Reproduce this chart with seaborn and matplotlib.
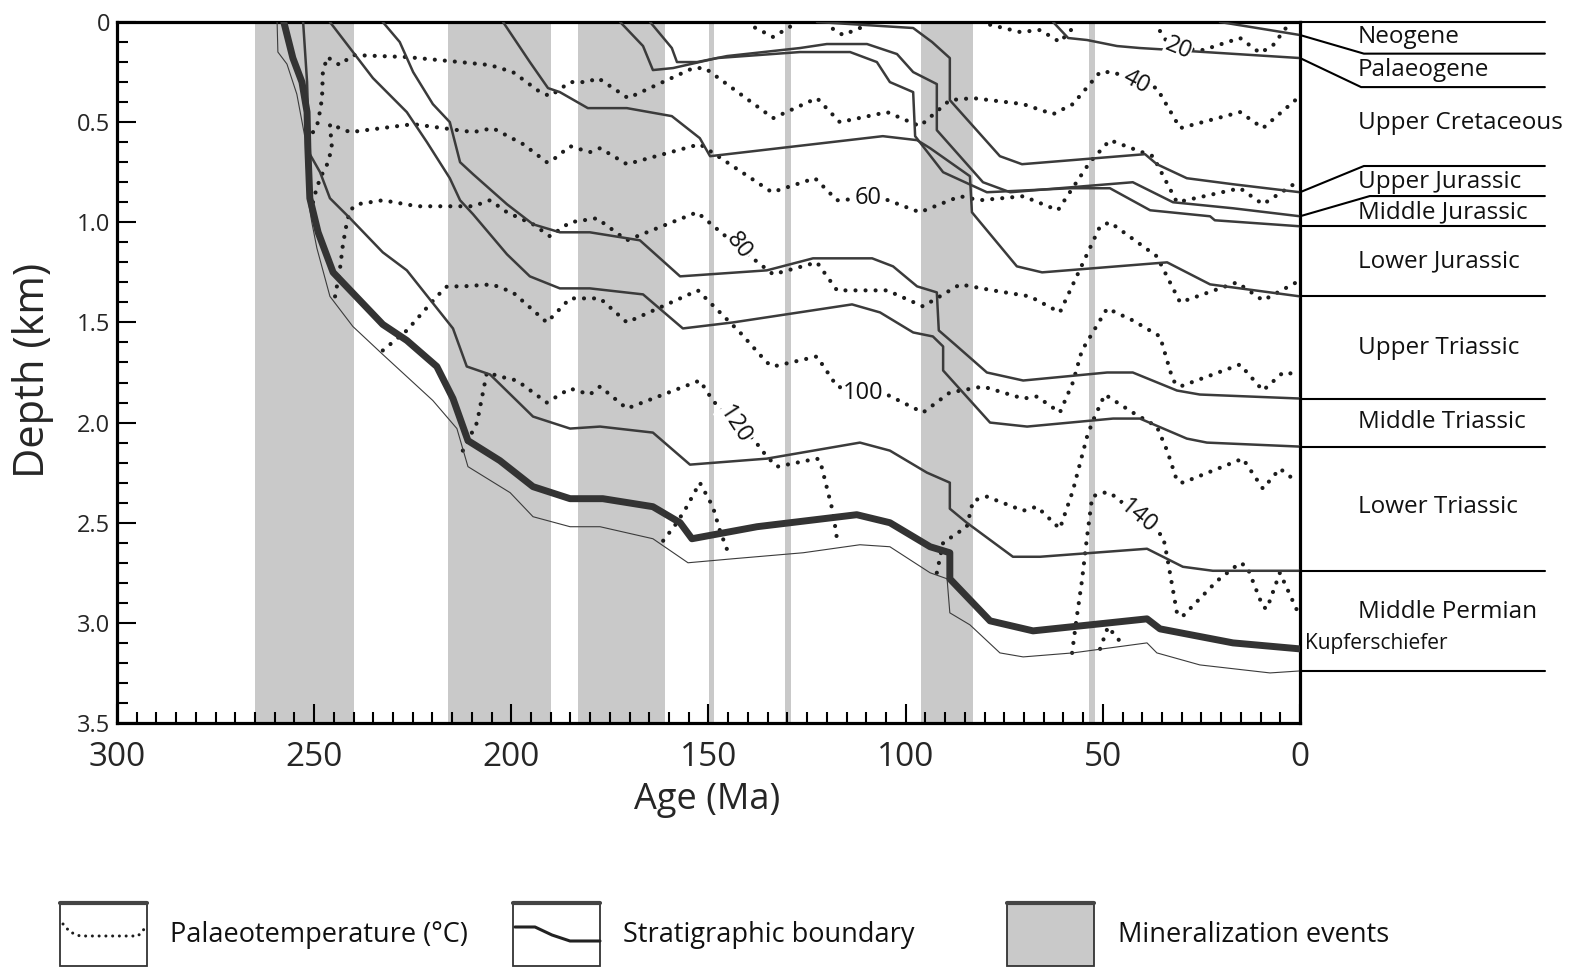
import numpy as np
import pandas as pd
import matplotlib
matplotlib.use("Agg")
import matplotlib.pyplot as plt
from matplotlib.ticker import MultipleLocator
from matplotlib.patches import Rectangle
import seaborn as sns

sns.set_theme(style="white")
plt.rcParams['font.family'] = ['Open Sans', 'DejaVu Sans']

# ------------------------------------------------------------------ data
mineral_start = [265, 216, 183, 150, 130.5, 96, 53.5]
mineral_end = [240, 190, 161, 148.5, 129, 83, 52]

# stratigraphic boundaries (age Ma, depth km)
base_perm_age = [259.4, 259.2, 256.9, 254.4, 252.3, 251.6, 250.6, 249.3, 246.0, 240.2, 232.6, 219.9, 213.8, 211.0,
                 200.3, 194.5, 185.1, 177.5, 164.1, 155.2, 143.8, 126.0, 111.6, 104.0, 93.8, 89.5, 88.8, 83.7,
                 76.1, 70.2, 57.6, 38.8, 36.3, 25.4, 7.6, 0]
base_perm_depth = [0.00, 0.15, 0.21, 0.36, 0.58, 0.88, 1.00, 1.13, 1.37, 1.52, 1.66, 1.89, 2.03, 2.22,
                   2.35, 2.47, 2.52, 2.52, 2.58, 2.70, 2.68, 2.65, 2.61, 2.62, 2.75, 2.78, 2.95, 3.01,
                   3.15, 3.17, 3.15, 3.10, 3.15, 3.21, 3.25, 3.24]

kupfer_age = [257.7, 255.4, 253.1, 251.8, 251.6, 251.1, 249.0, 245.2, 232.6, 226.5, 218.9, 214.8, 211.0, 202.9,
              194.5, 185.1, 176.8, 164.1, 157.2, 154.2, 137.7, 112.4, 104.0, 93.8, 88.8, 88.8, 78.6, 67.7,
              38.8, 35.5, 17.0, 0]
kupfer_depth = [0.00, 0.18, 0.30, 0.45, 0.63, 0.88, 1.05, 1.25, 1.51, 1.59, 1.72, 1.88, 2.09, 2.19,
                2.32, 2.38, 2.38, 2.42, 2.50, 2.58, 2.52, 2.46, 2.50, 2.62, 2.65, 2.78, 2.99, 3.04,
                2.98, 3.03, 3.10, 3.13]

top_mperm_age = [252.8, 251.8, 251.6, 251.1, 248.5, 246.0, 240.9, 232.6, 226.5, 214.8, 211.3, 205.4, 194.5, 185.1,
                 177.5, 164.1, 154.7, 135.2, 111.6, 104.0, 94.6, 88.8, 88.8, 84.5, 72.8, 65.9, 38.8, 29.7, 22.1, 0]
top_mperm_depth = [0.00, 0.30, 0.43, 0.66, 0.75, 0.88, 0.98, 1.15, 1.24, 1.53, 1.72, 1.76, 1.97, 2.03,
                   2.02, 2.05, 2.21, 2.18, 2.10, 2.14, 2.25, 2.30, 2.43, 2.50, 2.67, 2.67, 2.63, 2.72, 2.74, 2.74]

top_ltri_age = [246.0, 235.1, 226.5, 221.4, 215.6, 213.0, 209.7, 201.1, 195.3, 187.7, 180.1, 166.6, 156.5, 143.8,
                113.6, 106.5, 98.1, 93.1, 90.5, 90.5, 78.6, 69.2, 47.4, 40.6, 28.7, 23.6, 0]
top_ltri_depth = [0.00, 0.28, 0.45, 0.60, 0.78, 0.89, 0.96, 1.16, 1.27, 1.33, 1.33, 1.36, 1.53, 1.50,
                  1.41, 1.45, 1.55, 1.57, 1.62, 1.74, 2.00, 2.02, 1.98, 1.98, 2.08, 2.10, 2.12]

top_mtri_age = [232.6, 228.3, 224.9, 219.9, 215.6, 213.0, 209.7, 201.1, 194.5, 187.7, 180.1, 167.4, 157.2, 135.2,
                123.5, 108.5, 103.2, 97.1, 92.1, 91.6, 87.5, 79.4, 70.2, 48.9, 42.4, 31.2, 25.4, 0]
top_mtri_depth = [0.00, 0.10, 0.25, 0.41, 0.50, 0.70, 0.76, 0.91, 1.01, 1.05, 1.05, 1.09, 1.27, 1.24,
                  1.18, 1.18, 1.22, 1.32, 1.35, 1.54, 1.61, 1.75, 1.79, 1.75, 1.75, 1.84, 1.86, 1.88]

top_utri_age = [202.1, 195.3, 190.7, 187.7, 180.6, 170.7, 159.3, 152.2, 149.6, 105.8, 97.1, 93.8, 83.7, 83.2,
                71.8, 65.4, 33.7, 22.8, 0]
top_utri_depth = [0.00, 0.20, 0.33, 0.35, 0.43, 0.43, 0.47, 0.58, 0.67, 0.57, 0.59, 0.63, 0.77, 0.95,
                  1.22, 1.25, 1.20, 1.31, 1.37]

top_ljur_age = [172.4, 166.6, 164.1, 159.0, 147.8, 126.8, 114.1, 107.3, 104.0, 98.1, 97.6, 90.5, 79.4, 58.3,
                48.2, 38.0, 22.8, 21.6, 0]
top_ljur_depth = [0.00, 0.12, 0.24, 0.23, 0.18, 0.15, 0.15, 0.20, 0.30, 0.35, 0.57, 0.75, 0.85, 0.83,
                  0.83, 0.94, 0.97, 0.99, 1.02]

top_mjur_age = [164.8, 159.3, 158.0, 152.9, 145.3, 126.8, 120.0, 109.8, 102.2, 98.1, 92.1, 92.1, 80.4, 73.5,
                42.4, 32.2, 17.0, 0]
top_mjur_depth = [0.00, 0.13, 0.20, 0.20, 0.17, 0.13, 0.11, 0.11, 0.16, 0.25, 0.31, 0.54, 0.80, 0.85,
                  0.80, 0.90, 0.93, 0.97]

top_ujur_age = [122.5, 98.1, 93.3, 88.8, 88.8, 76.1, 70.5, 39.3, 36.3, 28.7, 17.0, 0]
top_ujur_depth = [0.00, 0.03, 0.10, 0.18, 0.39, 0.67, 0.71, 0.66, 0.71, 0.78, 0.81, 0.85]

top_ucret_age = [62.6, 58.8, 54.0, 46.4, 40.6, 32.2, 0]
top_ucret_depth = [0.00, 0.08, 0.09, 0.12, 0.13, 0.14, 0.18]

top_palaeo_age = [20.3, 10.9, 0]
top_palaeo_depth = [0.00, 0.03, 0.065]

# palaeotemperature isotherms (age Ma, depth km)
iso20_segments = [
    ([141.0, 139.5, 133.6, 128.6, 127.0], [-0.05, 0.015, 0.075, 0.015, -0.05]),
    ([121.0, 119.2, 115.9, 111.6, 110.0], [-0.05, 0.025, 0.065, 0.03, -0.05]),
    ([82.0, 80.4, 71.0, 65.9, 60.9, 57.6, 56.0], [-0.05, 0.005, 0.05, 0.04, 0.10, 0.03, -0.05]),
    ([37.0, 36.0, 33.7, 31.2, 24.6, 15.2, 10.1, 6.8, 3.0, 2.0], [-0.05, 0.03, 0.10, 0.13, 0.14, 0.08, 0.155, 0.115, 0.015, -0.05]),
]
iso40_age = [250.3, 249.0, 248.0, 247.8, 246.7, 243.5, 240.2, 226.5, 213.0, 205.4, 199.6, 192.7, 190.2, 185.1,
             180.8, 178.0, 170.4, 153.9, 150.9, 133.6, 122.5, 116.7, 104.7, 96.4, 88.8, 82.9, 70.2, 62.6,
             57.6, 50.7, 47.4, 41.3, 36.3, 30.4, 15.2, 9.4, 0]
iso40_depth = [0.55, 0.50, 0.38, 0.25, 0.175, 0.215, 0.165, 0.175, 0.20, 0.215, 0.25, 0.35, 0.37, 0.30,
               0.30, 0.28, 0.38, 0.23, 0.23, 0.48, 0.38, 0.50, 0.45, 0.52, 0.39, 0.38, 0.41, 0.46,
               0.41, 0.25, 0.25, 0.30, 0.33, 0.53, 0.45, 0.53, 0.37]
iso60_age = [250.3, 249.8, 248.5, 246.7, 245.5, 246.0, 240.9, 224.9, 209.7, 204.7, 197.0, 191.0, 190.2, 185.1,
             180.1, 177.5, 170.7, 152.2, 133.9, 123.0, 117.4, 109.6, 105.8, 96.4, 86.2, 81.2, 70.2, 61.4,
             53.3, 48.2, 37.3, 31.2, 15.2, 9.4, 0]
iso60_depth = [0.90, 0.86, 0.78, 0.71, 0.63, 0.51, 0.55, 0.51, 0.55, 0.53, 0.61, 0.70, 0.70, 0.62,
               0.65, 0.63, 0.71, 0.61, 0.85, 0.78, 0.89, 0.88, 0.88, 0.95, 0.87, 0.89, 0.87, 0.94,
               0.70, 0.59, 0.67, 0.90, 0.83, 0.91, 0.79]
iso80_age = [244.7, 243.5, 242.7, 241.7, 240.9, 239.1, 232.6, 223.9, 209.7, 205.4, 201.1, 194.5, 190.2, 185.1,
             178.3, 170.7, 152.9, 142.0, 136.2, 133.6, 122.5, 117.4, 104.7, 95.6, 86.2, 77.9, 68.5, 60.9,
             50.7, 48.2, 36.3, 30.4, 16.0, 9.4, 0]
iso80_depth = [1.37, 1.24, 1.11, 1.00, 0.94, 0.91, 0.89, 0.92, 0.92, 0.89, 0.95, 1.01, 1.07, 1.00,
               0.98, 1.09, 0.95, 1.13, 1.22, 1.26, 1.20, 1.34, 1.34, 1.42, 1.31, 1.34, 1.37, 1.45,
               1.02, 1.00, 1.17, 1.40, 1.30, 1.39, 1.29]
iso100_age = [232.6, 226.5, 218.9, 216.3, 212.3, 204.9, 199.6, 191.0, 185.1, 177.5, 170.7, 152.7, 142.0, 135.2,
              133.6, 122.5, 117.4, 110.8, 105.8, 95.6, 88.8, 80.4, 70.2, 66.7, 60.9, 57.6, 55.3, 48.9,
              42.4, 35.5, 32.2, 30.4, 15.2, 9.4, 4.3, 0]
iso100_depth = [1.64, 1.54, 1.37, 1.32, 1.32, 1.31, 1.35, 1.50, 1.38, 1.38, 1.50, 1.34, 1.55, 1.70,
                1.72, 1.67, 1.82, 1.85, 1.85, 1.95, 1.85, 1.82, 1.88, 1.87, 1.95, 1.80, 1.64, 1.43,
                1.49, 1.57, 1.79, 1.82, 1.71, 1.84, 1.75, 1.76]
iso120_segments = [
    ([212.3, 208.7, 206.2, 202.9, 198.6, 191.0, 185.1, 180.1, 177.5, 170.7, 152.2, 148.9, 143.3, 138.7, 135.2,
      132.6, 122.5, 121.7, 118.4, 117.2],
     [2.14, 2.00, 1.75, 1.77, 1.79, 1.90, 1.83, 1.86, 1.82, 1.93, 1.79, 1.89, 2.01, 2.08, 2.17,
      2.22, 2.18, 2.19, 2.45, 2.61]),
    ([92.1, 90.5, 84.5, 82.9, 79.4, 70.2, 66.7, 60.9, 57.6, 54.0, 52.5, 49.5, 42.4, 36.3, 33.7, 31.2, 29.7,
      14.5, 9.4, 5.1, 0.5],
     [2.75, 2.60, 2.52, 2.39, 2.37, 2.44, 2.42, 2.53, 2.34, 2.07, 1.99, 1.86, 1.95, 2.02, 2.14, 2.29, 2.30,
      2.18, 2.33, 2.23, 2.30]),
]
iso140_segments = [
    ([161.5, 158.0, 155.5, 152.2, 148.9, 147.1, 144.6],
     [2.59, 2.50, 2.42, 2.30, 2.42, 2.54, 2.67]),
    ([57.8, 56.6, 55.3, 54.0, 52.7, 50.2, 48.2, 40.6, 34.7, 33.7, 31.2, 29.9, 21.0, 15.2, 13.4, 9.4, 8.4, 5.1, 0],
     [3.15, 2.97, 2.79, 2.57, 2.37, 2.35, 2.35, 2.47, 2.57, 2.67, 2.95, 2.97, 2.79, 2.70, 2.72, 2.92, 2.93, 2.75, 2.97]),
    ([50.7, 48.7, 44.9], [3.13, 3.02, 3.11]),
]
iso_label_text = ['20', '40', '60', '80', '100', '120', '140']
iso_label_age = [30.9, 41.6, 109.6, 142.3, 110.8, 143.4, 41.0]
iso_label_depth = [0.13, 0.30, 0.88, 1.12, 1.85, 2.01, 2.47]
iso_label_rot = [-22, -28, 0, -52, 0, -57, -40]

# right-hand stratigraphic column
unit_names = ['Neogene', 'Palaeogene', 'Upper Cretaceous', 'Upper Jurassic', 'Middle Jurassic',
              'Lower Jurassic', 'Upper Triassic', 'Middle Triassic', 'Lower Triassic', 'Middle Permian']
unit_label_depth = [0.075, 0.24, 0.504, 0.80, 0.95, 1.193, 1.628, 1.997, 2.42, 2.945]
connector_end_depth = [0.158, 0.325, 0.719, 0.869]
connector_end_age = [-16.2, -15.5, -16.2, -17.7]

x_ticks = [300, 250, 200, 150, 100, 50, 0]
y_ticks = [0, 0.5, 1.0, 1.5, 2.0, 2.5, 3.0, 3.5]
y_tick_labels = ['0', '0.5', '1.0', '1.5', '2.0', '2.5', '3.0', '3.5']

# ------------------------------------------------------------------ figure
W, H = 1571, 969
fig = plt.figure(figsize=(W / 100, H / 100), dpi=100)
ax = fig.add_axes([117 / W, 1 - 723 / H, (1300 - 117) / W, (723 - 22) / H])

band_col = '#c9c9c9'
line_col = '#3b3b3b'
dot_col = '#1c1c1c'

for a0, a1 in zip(mineral_start, mineral_end):
    ax.axvspan(a1, a0, color=band_col, lw=0, zorder=0)

dot_style = dict(linestyle=(0, (0.01, 2.4)), dash_capstyle='round', lw=3.0, color=dot_col, zorder=2)


def draw(ages, depths, **kw):
    df = pd.DataFrame({'age': ages, 'depth': depths})
    sns.lineplot(data=df, x='age', y='depth', sort=False, estimator=None, ax=ax, legend=False, **kw)


for seg_a, seg_d in iso20_segments:
    draw(seg_a, seg_d, **dot_style)
for ages, depths in [(iso40_age, iso40_depth), (iso60_age, iso60_depth),
                     (iso80_age, iso80_depth), (iso100_age, iso100_depth)]:
    draw(ages, depths, **dot_style)
for seg_a, seg_d in iso120_segments + iso140_segments:
    draw(seg_a, seg_d, **dot_style)

boundaries = [(top_mperm_age, top_mperm_depth), (top_ltri_age, top_ltri_depth),
              (top_mtri_age, top_mtri_depth), (top_utri_age, top_utri_depth),
              (top_ljur_age, top_ljur_depth), (top_mjur_age, top_mjur_depth),
              (top_ujur_age, top_ujur_depth), (top_ucret_age, top_ucret_depth),
              (top_palaeo_age, top_palaeo_depth)]
for ages, depths in boundaries:
    draw(ages, depths, color=line_col, lw=1.8, zorder=3)
draw(base_perm_age, base_perm_depth, color=line_col, lw=0.8, zorder=3)
draw(kupfer_age, kupfer_depth, color='#333333', lw=5.0, zorder=4)

for txt, a, d, r in zip(iso_label_text, iso_label_age, iso_label_depth, iso_label_rot):
    ax.text(a, d, txt, rotation=r, ha='center', va='center', fontsize=17, color='#111111', zorder=6,
            bbox=dict(facecolor='white', edgecolor='none', pad=0.3))

# axes styling
ax.set_xlim(300, 0)
ax.set_ylim(3.5, 0)
ax.set_xticks(x_ticks)
ax.set_xticklabels([str(t) for t in x_ticks])
ax.set_yticks(y_ticks)
ax.set_yticklabels(y_tick_labels)
ax.xaxis.set_minor_locator(MultipleLocator(5))
ax.yaxis.set_minor_locator(MultipleLocator(0.1))
ax.tick_params(axis='both', which='both', direction='in', top=False, right=False,
               bottom=True, left=True, color='black', width=1.5)
ax.tick_params(axis='both', which='major', length=14)
ax.tick_params(axis='both', which='minor', length=8)
ax.tick_params(axis='x', which='major', labelsize=24, pad=13)
ax.tick_params(axis='y', which='major', labelsize=17, pad=5)
for sp in ax.spines.values():
    sp.set_visible(True)
    sp.set_color('black')
    sp.set_linewidth(2.3)
ax.set_xlabel('Age (Ma)', fontsize=26)
ax.set_ylabel('Depth (km)', fontsize=30)
ax.xaxis.set_label_coords((707 - 117) / 1183, (723 - 800) / 701)
ax.xaxis.label.set_va('center')
ax.yaxis.set_label_coords((33 - 117) / 1183, (723 - 370) / 701)
ax.yaxis.label.set_va('center')
ax.grid(False)

# right-hand column annotations
right_end = -62.1
end_lines = [top_ljur_depth[-1], top_utri_depth[-1], top_mtri_depth[-1], top_ltri_depth[-1],
             top_mperm_depth[-1], base_perm_depth[-1], 0.0]
for d in end_lines:
    ax.plot([0, right_end], [d, d], color='black', lw=1.5, clip_on=False, zorder=5)
conn_start = [top_palaeo_depth[-1], top_ucret_depth[-1], top_ujur_depth[-1], top_mjur_depth[-1]]
for d0, a1, d1 in zip(conn_start, connector_end_age, connector_end_depth):
    ax.plot([0, a1, right_end], [d0, d1, d1], color='black', lw=1.5, clip_on=False, zorder=5)
for name, d in zip(unit_names, unit_label_depth):
    ax.text(-14.7, d, name, fontsize=17.5, ha='left', va='center', color='#111111', clip_on=False)
ax.text(-1.3, 3.105, 'Kupferschiefer', fontsize=15, ha='left', va='center', color='#111111', clip_on=False)

# legend drawn in pixel space
lax = fig.add_axes([0, 0, 1, 1])
lax.set_xlim(0, W)
lax.set_ylim(H, 0)
lax.axis('off')
boxes = [60, 513, 1007]
for i, bx in enumerate(boxes):
    lax.add_patch(Rectangle((bx, 903), 87, 63, facecolor=band_col if i == 2 else 'none',
                            edgecolor='#333333', lw=1.3))
    lax.plot([bx, bx + 87], [903, 903], color='#444444', lw=3)
lax.plot([63, 70, 80, 138, 146], [924, 932, 936, 936, 927], **{**dot_style, 'lw': 2.2, 'linestyle': (0, (0.01, 2.2))})
lax.plot([515, 535, 552, 570, 600], [927, 927, 935, 941, 941], color='#222222', lw=2.2)
legend_text = ['Palaeotemperature (°C)', 'Stratigraphic boundary', 'Mineralization events']
legend_x = [170, 623, 1118]
for t, x in zip(legend_text, legend_x):
    lax.text(x, 935, t, fontsize=19.5, ha='left', va='center', color='#111111')

fig.savefig('out.png', dpi=100)
